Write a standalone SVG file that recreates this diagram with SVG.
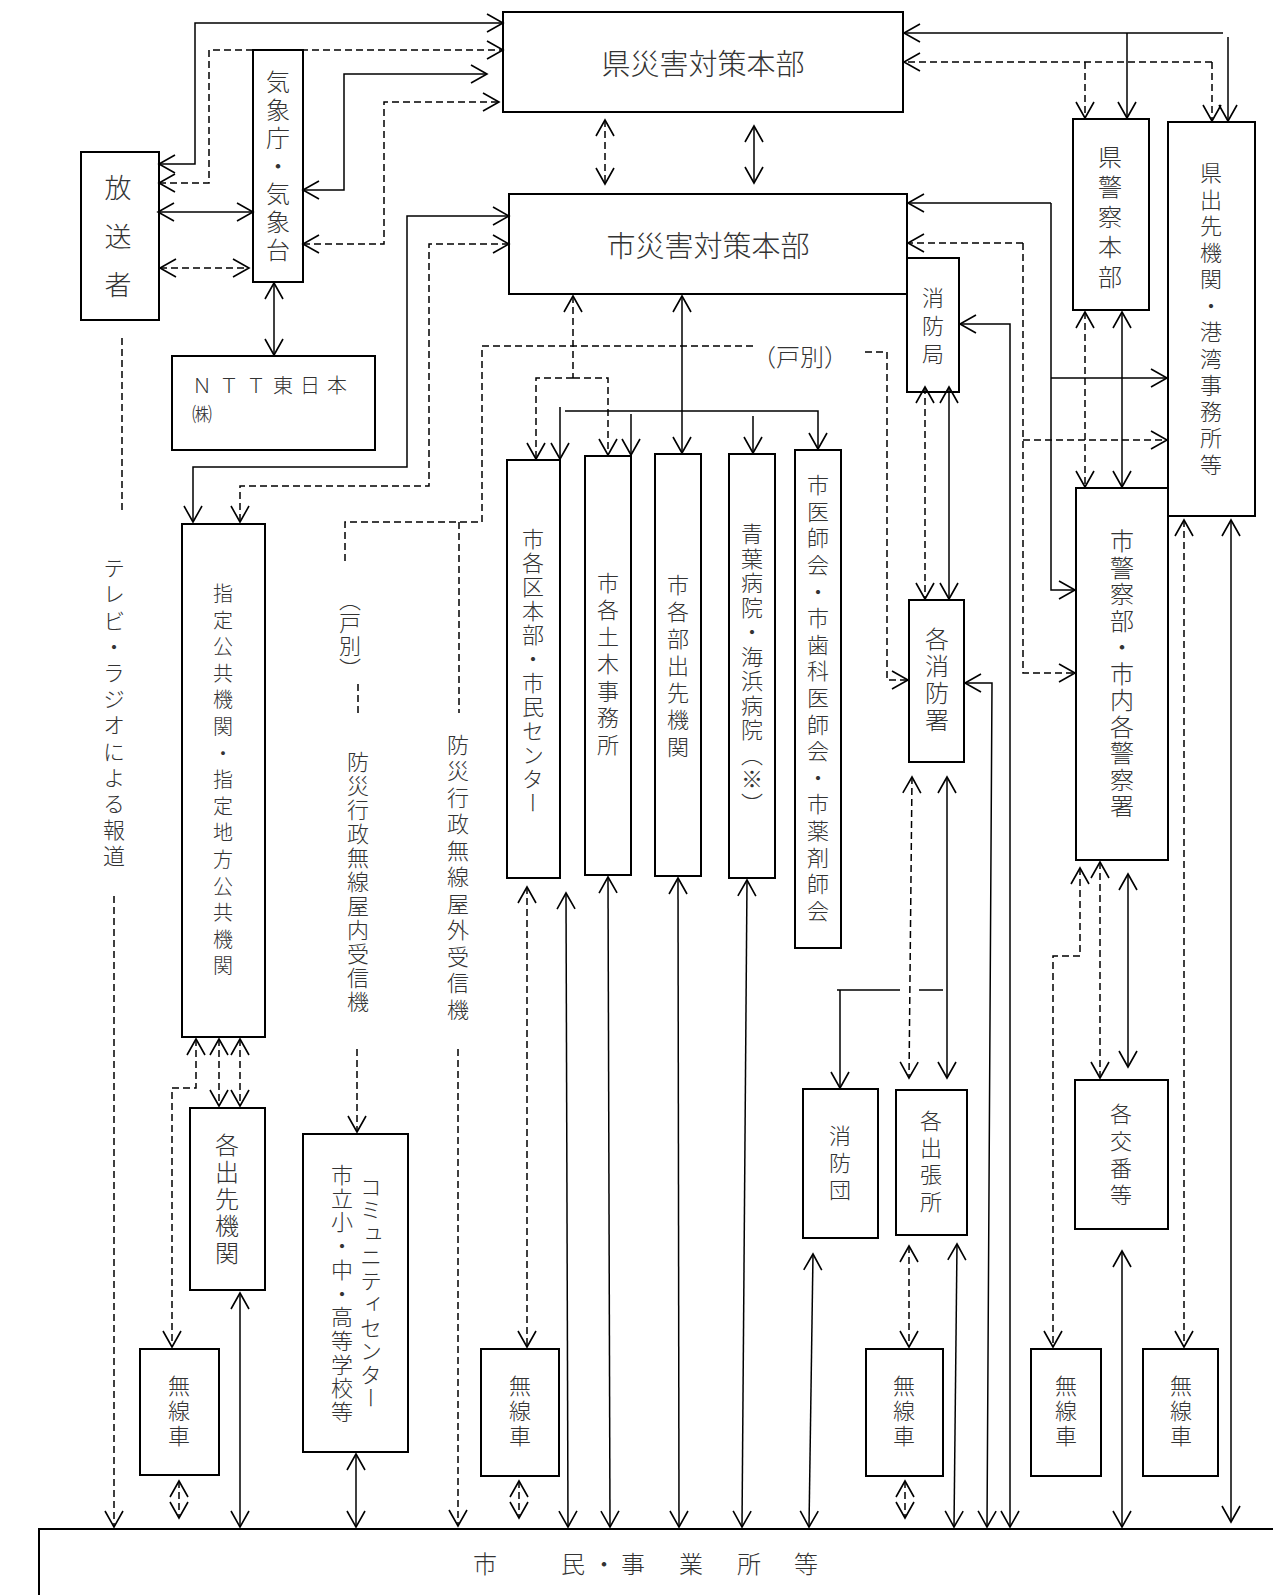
<svg xmlns="http://www.w3.org/2000/svg" width="1273" height="1595" viewBox="0 0 1273 1595">
<defs>
<marker id="a" markerUnits="userSpaceOnUse" markerWidth="40" markerHeight="40" viewBox="-20 -20 40 40" refX="0" refY="0" orient="auto-start-reverse">
<path d="M-16,-9 L0,0 L-16,9" fill="none" stroke="#000" stroke-width="1.6" stroke-dasharray="none"/>
</marker>
</defs>
<style>
.b{fill:#fff;stroke:#000;stroke-width:2}
.s{fill:none;stroke:#000;stroke-width:1.5}
.d{fill:none;stroke:#000;stroke-width:1.5;stroke-dasharray:7 4}
.e{marker-end:url(#a)}
.st{marker-start:url(#a)}
text{font-family:"Noto Sans CJK JP","Noto Sans CJK SC",sans-serif;fill:#333;font-weight:300}
.v{writing-mode:vertical-rl;text-anchor:middle}
.h{dominant-baseline:central}
</style>
<rect x="0" y="0" width="1273" height="1595" fill="#fff"/>

<g id="n_housou"><rect class="b" x="81" y="152" width="78" height="168"/><text class="v" x="118" y="247" font-size="27" letter-spacing="21.5">放送者</text></g>
<g id="n_kisho"><rect class="b" x="253" y="50" width="50" height="232"/><text class="v" x="278" y="168" font-size="24" letter-spacing="4">気象庁・気象台</text></g>
<g id="n_ntt"><rect class="b" x="172" y="356" width="203" height="94"/><text class="h" x="192" y="384" font-size="20" letter-spacing="7">ＮＴＴ東日本</text><text class="h" x="192" y="413" font-size="20">㈱</text></g>
<g id="n_ken"><rect class="b" x="503" y="12" width="400" height="100"/><text class="h" x="703" y="62" font-size="29" text-anchor="middle">県災害対策本部</text></g>
<g id="n_shi"><rect class="b" x="509" y="194" width="398" height="100"/><text class="h" x="708" y="244" font-size="29" text-anchor="middle">市災害対策本部</text></g>
<g id="n_shobokyoku"><rect class="b" x="907" y="258" width="52" height="134"/><text class="v" x="933" y="329" font-size="22" letter-spacing="6">消防局</text></g>
<g id="n_kenkei"><rect class="b" x="1073" y="119" width="76" height="191"/><text class="v" x="1110" y="220" font-size="24" letter-spacing="6">県警察本部</text></g>
<g id="n_kendesaki"><rect class="b" x="1168" y="122" width="87" height="394"/><text class="v" x="1211" y="321" font-size="22" letter-spacing="4.5">県出先機関・港湾事務所等</text></g>
<g id="n_shikei"><rect class="b" x="1076" y="488" width="92" height="372"/><text class="v" x="1122" y="675" font-size="24" letter-spacing="2.5">市警察部・市内各警察署</text></g>
<g id="n_shitei"><rect class="b" x="182" y="524" width="83" height="513"/><text class="v" x="223" y="783" font-size="20" letter-spacing="6.6">指定公共機関・指定地方公共機関</text></g>
<g id="n_kuhonbu"><rect class="b" x="507" y="460" width="53" height="418"/><text class="v" x="533" y="672" font-size="22" letter-spacing="2">市各区本部・市民センター</text></g>
<g id="n_doboku"><rect class="b" x="585" y="456" width="46" height="419"/><text class="v" x="608" y="666" font-size="22" letter-spacing="5">市各土木事務所</text></g>
<g id="n_bushutsu"><rect class="b" x="655" y="454" width="46" height="422"/><text class="v" x="678" y="668" font-size="22" letter-spacing="5">市各部出先機関</text></g>
<g id="n_byoin"><rect class="b" x="729" y="454" width="46" height="424"/><text class="v" x="752" y="670" font-size="22" letter-spacing="2.5">青葉病院・海浜病院（※）</text></g>
<g id="n_ishikai"><rect class="b" x="795" y="450" width="46" height="498"/><text class="v" x="818" y="700" font-size="22" letter-spacing="4.6">市医師会・市歯科医師会・市薬剤師会</text></g>
<g id="n_kakushobo"><rect class="b" x="909" y="600" width="55" height="162"/><text class="v" x="937" y="681" font-size="24" letter-spacing="3">各消防署</text></g>
<g id="n_dekisaki"><rect class="b" x="190" y="1108" width="75" height="182"/><text class="v" x="227" y="1200" font-size="24" letter-spacing="3">各出先機関</text></g>
<g id="n_community"><rect class="b" x="303" y="1134" width="105" height="318"/><text class="v" x="371" y="1293" font-size="22" letter-spacing="1.5">コミュニティセンター</text><text class="v" x="342" y="1294" font-size="22" letter-spacing="1.7">市立小・中・高等学校等</text></g>
<g id="n_shobodan"><rect class="b" x="803" y="1089" width="75" height="149"/><text class="v" x="840" y="1165" font-size="22" letter-spacing="5">消防団</text></g>
<g id="n_shutcho"><rect class="b" x="896" y="1090" width="71" height="145"/><text class="v" x="931" y="1164" font-size="22" letter-spacing="5">各出張所</text></g>
<g id="n_koban"><rect class="b" x="1075" y="1080" width="93" height="149"/><text class="v" x="1121" y="1157" font-size="22" letter-spacing="5">各交番等</text></g>
<g id="n_musen1"><rect class="b" x="140" y="1349" width="79" height="126"/><text class="v" x="179" y="1412" font-size="22" letter-spacing="3">無線車</text></g>
<g id="n_musen2"><rect class="b" x="481" y="1349" width="78" height="127"/><text class="v" x="520" y="1412" font-size="22" letter-spacing="3">無線車</text></g>
<g id="n_musen3"><rect class="b" x="866" y="1349" width="77" height="127"/><text class="v" x="904" y="1412" font-size="22" letter-spacing="3">無線車</text></g>
<g id="n_musen4"><rect class="b" x="1031" y="1349" width="70" height="127"/><text class="v" x="1066" y="1412" font-size="22" letter-spacing="3">無線車</text></g>
<g id="n_musen5"><rect class="b" x="1143" y="1349" width="75" height="127"/><text class="v" x="1181" y="1412" font-size="22" letter-spacing="3">無線車</text></g>
<g id="n_shimin"><rect class="b" x="39" y="1529" width="1260" height="90"/><text class="h" y="1562" font-size="24" text-anchor="middle"><tspan x="485">市</tspan><tspan x="573">民</tspan><tspan x="604">・</tspan><tspan x="633">事</tspan><tspan x="691">業</tspan><tspan x="749">所</tspan><tspan x="806">等</tspan></text></g>

<g id="labels">
<text class="v" x="114" y="714" font-size="22" letter-spacing="4.2">テレビ・ラジオによる報道</text>
<text class="v" x="350" y="635" font-size="22" letter-spacing="1">（戸別）</text>
<text class="v" x="358" y="883" font-size="22" letter-spacing="2">防災行政無線屋内受信機</text>
<text class="v" x="458" y="879" font-size="22" letter-spacing="4.5">防災行政無線屋外受信機</text>
<text class="h" x="752" y="355" font-size="24">（戸別）</text>
</g>

<g id="connectors">
<path class="s st e" d="M159,164 H195 V23 H503"/>
<path class="d st e" d="M159,183 H209 V50 H503"/>
<path class="s st e" d="M303,190 H344 V74 H487"/>
<path class="d st e" d="M303,244 H384 V102 H499"/>
<path class="s st e" d="M158,212 H253"/>
<path class="d st e" d="M160,268 H249"/>
<path class="s st e" d="M274,283 V355"/>
<path class="d" d="M122,338 V514"/>
<path class="d e" d="M114,896 V1527"/>
<path class="d st e" d="M605,120 V184"/>
<path class="s st e" d="M754,126 V183"/>
<path class="s st e" d="M509,216 H407 V467 H193 V522"/>
<path class="d st e" d="M509,244 H429 V486 H240 V522"/>
<path class="d" d="M753,346 H482 V522 H345 V562"/>
<path class="d" d="M459,522 V713"/>
<path class="d" d="M358,684 V715"/>
<path class="d e" d="M865,352 H887 V680 H908"/>
<path class="d e" d="M357,1049 V1132"/>
<path class="s st e" d="M356,1454 V1527"/>
<path class="d e" d="M458,1049 V1526"/>
<path class="d st" d="M573,296 V378"/>
<path class="d e" d="M573,378 H536 V459"/>
<path class="d e" d="M573,378 H608 V455"/>
<path class="s st e" d="M682,296 V453"/>
<path class="s e" d="M565,411 H818 V449"/>
<path class="s e" d="M560,407 V459"/>
<path class="s e" d="M631,414 V455"/>
<path class="s e" d="M753,416 V453"/>
<path class="d st e" d="M527,887 V1347"/>
<path class="s st e" d="M566,893 L568,1527"/>
<path class="s st e" d="M608,877 L610,1527"/>
<path class="s st e" d="M678,878 L679,1527"/>
<path class="s st e" d="M747,880 L742,1527"/>
<path class="d st e" d="M519,1481 V1518"/>
<path class="s st e" d="M813,1254 L809,1527"/>
<path class="d st e" d="M196,1039 V1088 H172 V1347"/>
<path class="d st e" d="M219,1039 V1106"/>
<path class="d st e" d="M240,1039 V1106"/>
<path class="s st e" d="M240,1293 V1527"/>
<path class="d st e" d="M179,1481 V1518"/>
<path class="s e" d="M1223,33 H904"/>
<path class="s e" d="M1127,33 V118"/>
<path class="s e" d="M1228,37 V121"/>
<path class="d e" d="M1212,62 H904"/>
<path class="d e" d="M1212,62 V121"/>
<path class="d e" d="M1085,62 V118"/>
<path class="s e" d="M1051,203 H908"/>
<path class="s e" d="M1051,203 V590 H1075"/>
<path class="s e" d="M1051,378 H1167"/>
<path class="d e" d="M1023,243 H908"/>
<path class="d e" d="M1023,243 V673 H1075"/>
<path class="d e" d="M1023,440 H1167"/>
<path class="s st e" d="M1010,1527 V324 H960"/>
<path class="s st e" d="M965,683 H992 L987,1527"/>
<path class="d st e" d="M925,387 V599"/>
<path class="s st e" d="M949,387 V599"/>
<path class="d st e" d="M1085,312 V487"/>
<path class="s st e" d="M1122,312 V487"/>
<path class="d st e" d="M912,777 L909,1078"/>
<path class="s st e" d="M947,777 V1078"/>
<path class="s" d="M943,990 H919 M900,990 H837"/>
<path class="s e" d="M840,990 V1088"/>
<path class="d st e" d="M909,1246 V1347"/>
<path class="s st e" d="M957,1244 L954,1527"/>
<path class="d st e" d="M905,1481 V1518"/>
<path class="d st e" d="M1080,868 V956 H1053 V1347"/>
<path class="d st e" d="M1100,862 V1078"/>
<path class="s st e" d="M1128,874 V1067"/>
<path class="s st e" d="M1122,1251 V1527"/>
<path class="d st e" d="M1184,520 V1347"/>
<path class="s st e" d="M1231,520 V1522"/>
</g>
</svg>
